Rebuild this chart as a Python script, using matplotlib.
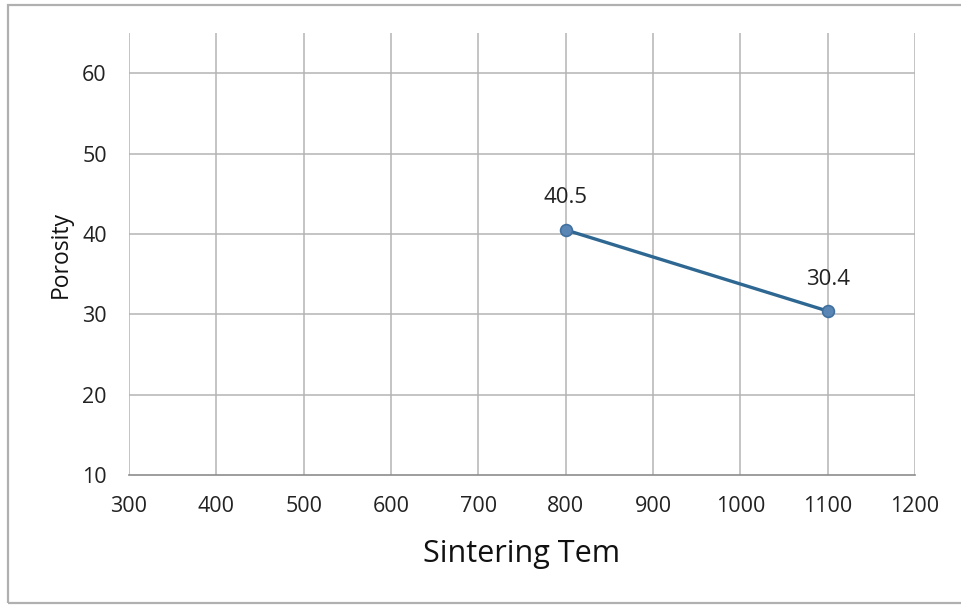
import matplotlib
matplotlib.use("Agg")
import matplotlib.pyplot as plt
from matplotlib.patches import Rectangle

# Porosity measured at two sintering temperatures
temperature = [800, 1100]
porosity = [40.5, 30.4]

x_ticks = [300, 400, 500, 600, 700, 800, 900, 1000, 1100, 1200]
y_ticks = [10, 20, 30, 40, 50, 60]

plt.rcParams["font.family"] = ["Open Sans", "DejaVu Sans"]

fig = plt.figure(figsize=(9.61, 6.05), dpi=100)
ax = fig.add_axes([129 / 961, 1 - 475 / 605, (915 - 129) / 961, (475 - 33) / 605])

grid_color = "#b4b4b4"
ax.set_xlim(300, 1200)
ax.set_ylim(10, 65)
ax.set_xticks(x_ticks)
ax.set_yticks(y_ticks)
ax.tick_params(length=0, labelsize=15.5, colors="#222222")
ax.tick_params(axis="x", pad=15)
ax.tick_params(axis="y", pad=16)

for x in x_ticks:
    ax.axvline(x, color=grid_color, linewidth=1.1, zorder=1)
for y in y_ticks[1:]:
    ax.axhline(y, color=grid_color, linewidth=1.1, zorder=1)

for side in ("top", "right", "left"):
    ax.spines[side].set_visible(False)
ax.spines["bottom"].set_color("#8c8c8c")
ax.spines["bottom"].set_linewidth(1.2)

ax.plot(temperature, porosity, "-", color="#2e6892", linewidth=2.4, zorder=3)
ax.plot(temperature, porosity, "o", markersize=8.5, markerfacecolor="#5a86b6",
        markeredgecolor="#41709f", markeredgewidth=1.2, zorder=4)

for t, p in zip(temperature, porosity):
    ax.annotate(f"{p}", (t, p), xytext=(0, 23), textcoords="offset points",
                ha="center", va="center", fontsize=16, color="#222222")

ax.set_xlabel("Sintering Tem", fontsize=22, color="#111111", labelpad=16)
ax.set_ylabel("Porosity", fontsize=16.5, color="#111111", labelpad=7)

# light frame around the whole chart
fig.add_artist(Rectangle((8 / 961, 2 / 605), 1.0, 1 - 7 / 605,
                         transform=fig.transFigure, fill=False,
                         edgecolor="#b0b0b0", linewidth=1.6, clip_on=False))

fig.savefig("out.png", dpi=100, facecolor="white")
